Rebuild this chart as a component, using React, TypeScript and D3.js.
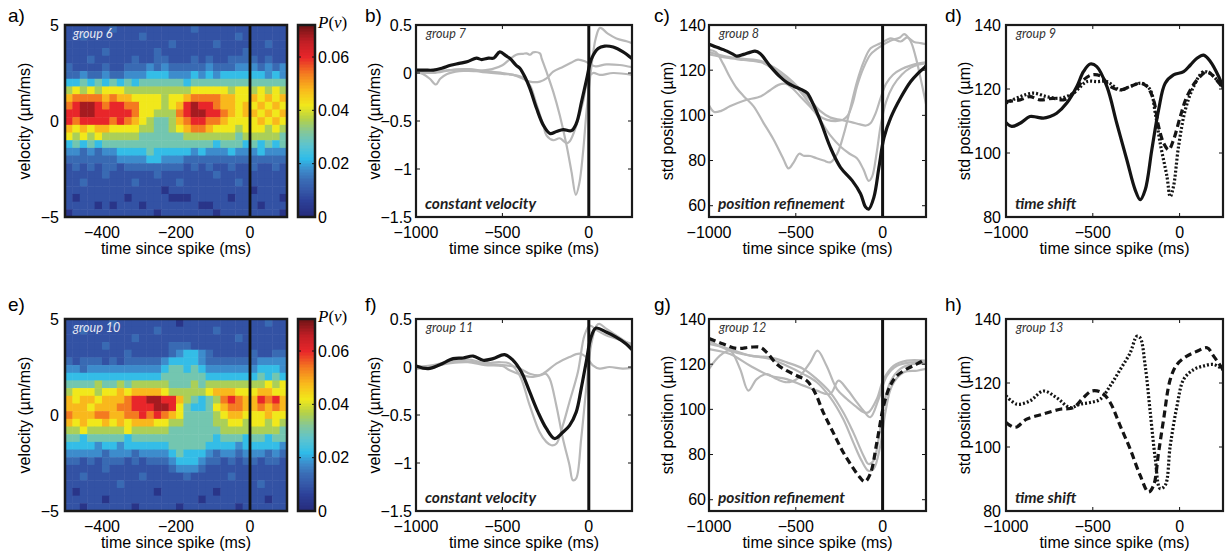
import React from "react";
import * as d3 from "d3";

// ---------------- heatmap data (levels) ----------------
// each char = density level index into HEAT_LEVELS; rows from v=+5 (top) to v=-5 (bottom),
// columns from t=-500 to t=+100 ms
const HEAT_LEVELS = [0.003, 0.009, 0.0135, 0.018, 0.0225, 0.03, 0.036, 0.042, 0.048, 0.054, 0.06, 0.068];
const HEAT_TIME_DOMAIN: [number, number] = [-500, 100];
const HEAT_VEL_DOMAIN: [number, number] = [-5, 5];
const HEAT_TIME_TICKS = [-400, -200, 0];
const HEAT_VEL_TICKS = [-5, 0, 5];
const CBAR_TICKS = [0, 0.02, 0.04, 0.06];
const CBAR_MAX = 0.072;

const heatGroup6 = [
  "11111 12111 11111 11211 11111 11111",
  "11211 11111 21111 11111 11121 11111",
  "11111 11111 11112 11111 21111 11211",
  "11111 21111 11211 11111 11112 11111",
  "11121 11112 11221 11212 11222 21211",
  "21111 21122 23232 22223 22233 32323",
  "22322 32233 34443 33434 34444 44343",
  "44545 45454 55555 54555 55555 55555",
  "67676 77766 66666 66777 77677 67676",
  "89999 89887 77767 78999 98877 87878",
  "9abba 9aa99 77767 8abaa 98878 78787",
  "aabba aaaa9 77666 9abba a9878 87878",
  "a9aaa a9a98 76556 89aa9 98777 78787",
  "87878 87777 66556 78998 77767 77676",
  "76767 66666 55555 56666 66656 66665",
  "45454 55555 55555 55555 45554 54545",
  "33232 33444 45444 44343 33433 34333",
  "22222 22333 34433 32222 22222 22222",
  "12121 22122 22222 21212 11211 21121",
  "11111 21111 11211 11111 21111 11111",
  "11211 11112 11111 21111 11121 11111",
  "11111 11111 11101 11111 11111 01111",
  "10111 11101 11110 00111 11011 11110",
  "11110 10111 01111 11100 11111 10111",
  "01111 11111 11011 11111 01111 11110",
];

const heatGroup10 = [
  "11111 12111 11111 01111 11111 11211",
  "11211 11111 11211 11111 21111 11111",
  "11111 11112 11111 11111 11121 11111",
  "11111 21111 11112 22111 11111 11111",
  "11111 11121 11112 34432 11111 21122",
  "21222 12122 22234 44432 22222 23333",
  "33233 33333 33345 54543 33333 34443",
  "44444 44444 44455 55554 44444 45454",
  "55556 55656 66665 55656 66666 66767",
  "67776 77878 88876 66667 88877 78877",
  "87887 8889a abbaa 86545 69a98 8a9a8",
  "88878 8899a aabba 75445 78998 89898",
  "98889 98899 a9a98 75555 67887 77877",
  "87877 87878 88776 65555 66776 77676",
  "66766 66676 66665 55555 56666 66665",
  "55455 55545 55555 55555 45554 55455",
  "44443 44344 44445 55554 44434 44443",
  "33333 23332 33334 54443 23323 33232",
  "22121 22212 12223 44432 21212 21221",
  "11111 21111 11112 33321 11111 11111",
  "11211 11111 21111 12111 11211 11111",
  "11111 11211 11111 11111 11111 12111",
  "10111 11111 11011 11111 01111 11111",
  "11111 01111 11111 11101 11111 11011",
  "11011 11110 11111 01111 11101 11111",
];

// ---------------- line data: [time ms, value] ----------------
const LINE_TIME_DOMAIN: [number, number] = [-1000, 250];
const LINE_TIME_TICKS = [-1000, -500, 0];
const VEL_TICKS = [0.5, 0, -0.5, -1, -1.5];
const STD_TICKS_C = [140, 120, 100, 80, 60];
const STD_TICKS_D = [140, 120, 100, 80];

type Pt = [number, number];

// panel b (group 7)
const bBlack: Pt[] = [[-1000,0.03],[-950,0.03],[-900,0.03],[-850,0.05],[-800,0.08],[-750,0.1],[-700,0.12],[-650,0.155],[-620,0.14],[-580,0.155],[-550,0.155],[-515,0.22],[-480,0.18],[-457,0.153],[-420,0.08],[-399,0.05],[-370,-0.04],[-341,-0.16],[-302,-0.37],[-264,-0.54],[-225,-0.63],[-187,-0.61],[-148,-0.59],[-100,-0.6],[-71,-0.52],[-42,-0.3],[-13,-0.07],[16,0.15],[54,0.256],[92,0.28],[141,0.27],[198,0.22],[250,0.15]];
const bGrayA: Pt[] = [[-1000,0.01],[-960,-0.01],[-920,-0.06],[-885,-0.12],[-860,-0.06],[-820,-0.01],[-750,0.02],[-650,0.02],[-560,0.04],[-500,0.08],[-460,0.14],[-420,0.19],[-380,0.2],[-360,0.205],[-340,0.19],[-322,0.215],[-283,0.205],[-273,0.153],[-245,0.014],[-206,-0.194],[-168,-0.44],[-129,-0.75],[-100,-1.03],[-75,-1.27],[-55,-1.15],[-33,-0.82],[-13,-0.4],[16,0.08],[40,0.36],[65,0.47],[110,0.41],[160,0.36],[218,0.33],[250,0.31]];
const bGrayB: Pt[] = [[-1000,0.0],[-900,0.01],[-800,0.03],[-700,0.04],[-600,0.02],[-500,0.0],[-437,-0.02],[-380,-0.06],[-341,-0.09],[-283,-0.09],[-245,-0.056],[-206,0.014],[-148,0.066],[-100,0.11],[-63,0.14],[-20,0.12],[10,0.09],[40,0.07],[102,0.09],[179,0.083],[250,0.06]];
const bGrayC: Pt[] = [[-1000,0.02],[-900,0.0],[-800,0.03],[-700,0.04],[-630,0.014],[-500,-0.01],[-437,-0.02],[-380,-0.05],[-341,-0.125],[-302,-0.33],[-264,-0.54],[-245,-0.65],[-206,-0.7],[-168,-0.68],[-129,-0.73],[-110,-0.71],[-71,-0.54],[-33,-0.3],[-4,-0.055],[25,0.0],[64,-0.02],[141,0.0],[250,-0.02]];

// panel c (group 8)
const cBlack: Pt[] = [[-1000,131.5],[-950,130],[-917,129.1],[-860,127],[-840,126.2],[-800,127],[-760,128],[-735,128.4],[-706,127.4],[-648,121.8],[-590,117],[-550,114.5],[-512,112.9],[-470,111.5],[-435,110],[-400,105],[-358,97.5],[-301,85.8],[-243,77],[-175,71.1],[-127,65.3],[-98,59.4],[-80,58.5],[-50,63.8],[-21,77],[8,90.2],[47,99],[104,107.8],[162,115],[200,118.3],[239,121],[250,122]];
const cGrayA: Pt[] = [[-1000,129],[-960,128],[-920,123],[-880,117],[-840,112],[-800,108.5],[-744,104.1],[-687,96.8],[-629,89.4],[-571,80.6],[-542,76.5],[-513,79.1],[-480,83],[-455,82.1],[-417,82],[-380,81],[-339,80],[-301,79.2],[-262,82.9],[-224,91.6],[-185,103.4],[-147,115],[-108,123.9],[-69,129.7],[-12,131.9],[47,134.1],[104,132.7],[142,134.5],[181,132.5],[220,132],[250,131.5]];
const cGrayB: Pt[] = [[-1000,104.5],[-970,101.5],[-930,102],[-880,104],[-800,106.5],[-700,108.5],[-650,111],[-600,113.5],[-560,114],[-520,112],[-470,108],[-420,104],[-370,100],[-320,98],[-262,97.5],[-230,98],[-200,100],[-170,106],[-147,113],[-110,121],[-69,127],[-12,130.5],[45,133],[100,134.5],[125,136],[160,133],[190,126],[220,116],[250,105]];
const cGrayC: Pt[] = [[-1000,128],[-900,126],[-800,125],[-700,124],[-620,121],[-550,117],[-480,112],[-420,107],[-360,102],[-300,99],[-240,98],[-180,97],[-130,96],[-95,95.5],[-70,96.5],[-40,101],[-10,108],[20,114],[60,118],[110,120.5],[160,122],[210,123],[250,123.5]];
const cGrayD: Pt[] = [[-1000,127],[-900,125.5],[-800,124.5],[-700,123.5],[-620,120],[-550,116],[-480,111],[-420,105],[-360,98],[-300,91],[-240,86],[-190,83],[-148,81],[-110,76],[-80,71],[-60,73],[-35,83],[-10,96],[20,106],[60,113],[110,118],[160,121],[210,122.5],[250,123]];

// panel d (group 9)
const dSolid: Pt[] = [[-1000,109.5],[-967,108.3],[-919,109.3],[-862,111.4],[-823,111.2],[-785,110.9],[-746,111.4],[-708,112.4],[-650,115.6],[-592,120.8],[-554,125.4],[-515,127.8],[-477,127],[-419,120.8],[-362,109.3],[-304,97.9],[-256,88.5],[-227,85.4],[-198,88.5],[-160,101],[-121,113.5],[-83,121.8],[-35,124.4],[23,125.4],[62,127.5],[100,129.6],[138,130.6],[177,128.6],[225,123.9],[250,120.5]];
const dDashed: Pt[] = [[-1000,116.1],[-919,116.6],[-862,117.6],[-804,116.6],[-727,117.1],[-669,116.6],[-612,118.7],[-554,122.8],[-506,124.4],[-458,124.1],[-400,120.8],[-342,119.7],[-285,120.8],[-227,121.8],[-188,120.8],[-150,116.6],[-121,108.3],[-92,103.1],[-63,101],[-35,104.1],[4,111.4],[42,117.6],[100,122.8],[158,125.4],[196,123.9],[250,120.2]];
const dDotted: Pt[] = [[-1000,115.6],[-919,117.6],[-842,118.7],[-765,117.6],[-689,117.1],[-612,118.7],[-535,122.3],[-477,122.3],[-419,122.3],[-342,119.7],[-285,120.8],[-217,121.8],[-169,119.7],[-140,112.4],[-112,103.1],[-73,92.7],[-54,86.4],[-35,89.6],[-6,102.1],[33,113.5],[81,120.8],[138,125.4],[187,124.4],[250,120.2]];

// panel f (group 11)
const fBlack: Pt[] = [[-1000,0.01],[-929,-0.017],[-862,0.024],[-785,0.087],[-727,0.094],[-669,0.114],[-612,0.07],[-554,0.087],[-487,0.128],[-438,0.07],[-390,-0.052],[-342,-0.26],[-294,-0.47],[-246,-0.64],[-198,-0.745],[-150,-0.68],[-112,-0.61],[-73,-0.47],[-44,-0.225],[-15,0.052],[13,0.31],[42,0.405],[100,0.364],[158,0.312],[215,0.243],[250,0.18]];
const fGrayA: Pt[] = [[-1000,0.0],[-900,0.02],[-800,0.06],[-700,0.08],[-600,0.04],[-520,0.05],[-458,0.035],[-400,-0.087],[-342,-0.4],[-285,-0.676],[-246,-0.78],[-217,-0.815],[-188,-0.8],[-150,-0.607],[-112,-0.364],[-63,-0.052],[-25,0.33],[5,0.43],[50,0.38],[100,0.33],[150,0.3],[200,0.27],[250,0.24]];
const fGrayB: Pt[] = [[-1000,-0.02],[-900,0.0],[-800,0.05],[-700,0.06],[-600,0.03],[-500,0.02],[-419,0.0],[-342,-0.07],[-285,-0.087],[-250,-0.07],[-227,-0.12],[-188,-0.4],[-150,-0.745],[-112,-1.02],[-92,-1.18],[-73,-1.16],[-44,-0.745],[-15,-0.225],[13,0.225],[45,0.43],[60,0.45],[100,0.4],[150,0.34],[200,0.28],[250,0.22]];
const fGrayC: Pt[] = [[-1000,0.0],[-900,0.01],[-800,0.04],[-700,0.05],[-600,0.02],[-500,0.01],[-458,-0.035],[-381,-0.087],[-323,-0.104],[-265,-0.07],[-188,0.035],[-112,0.104],[-54,0.139],[-15,0.104],[23,0.017],[62,-0.017],[119,0.0],[196,-0.017],[250,-0.01]];

// panel g (group 12)
const gDashed: Pt[] = [[-1000,131.4],[-917,128.9],[-840,127],[-763,127.5],[-706,127.5],[-667,125.2],[-610,120.1],[-552,117.1],[-494,114.9],[-437,112.7],[-390,107.5],[-342,98.7],[-285,89.8],[-227,81],[-179,75.1],[-131,69.9],[-102,68],[-71,71.4],[-33,85.4],[6,101.6],[44,110.5],[83,114.9],[140,117.9],[198,120.1],[250,122.3]];
const gGrayA: Pt[] = [[-1000,117.9],[-937,123.8],[-879,126],[-821,117.9],[-773,108.3],[-725,113.4],[-667,115.6],[-610,113.4],[-552,112],[-494,113.4],[-417,120.8],[-375,126],[-323,119.3],[-263,109],[-206,104.6],[-148,100.9],[-110,98.7],[-81,98.7],[-33,104.6],[6,113.4],[63,119.3],[140,121.6],[250,121.6]];
const gGrayB: Pt[] = [[-1000,126.7],[-879,124.5],[-763,119.3],[-648,114.9],[-552,113.4],[-456,110.5],[-379,108.3],[-302,106.8],[-254,112.7],[-206,109],[-148,103.1],[-110,99.4],[-71,96.5],[-23,104.6],[25,114.9],[83,119.3],[160,120.8],[250,120.8]];
const gGrayC: Pt[] = [[-1000,129],[-879,126.7],[-763,123.8],[-648,123],[-552,120.8],[-456,117.9],[-379,113.4],[-302,107.5],[-227,98.7],[-169,89.8],[-110,79.5],[-81,75.8],[-52,77.3],[-23,86.9],[6,101.6],[44,112],[102,117.9],[179,120.1],[250,120.1]];
const gGrayD: Pt[] = [[-1000,130.4],[-879,126],[-763,123.8],[-648,122.3],[-552,119.3],[-456,115.6],[-379,112],[-302,105.3],[-227,95.7],[-169,85.4],[-121,77.3],[-81,72.8],[-52,73.6],[-13,84],[16,98.7],[54,110.5],[122,116.4],[198,117.1],[250,117.9]];

// panel h (group 13)
const hDashed: Pt[] = [[-1000,107.7],[-948,106.1],[-881,108.7],[-785,110.3],[-688,111.8],[-612,112.3],[-554,115.4],[-506,117.5],[-448,117],[-400,113.9],[-342,106.6],[-285,99.4],[-227,91.1],[-179,85.9],[-150,88],[-121,98.3],[-92,108.7],[-54,121.1],[-15,125.8],[42,128.4],[100,129.9],[158,131],[196,128.4],[250,124.2]];
const hDotted: Pt[] = [[-1000,116],[-938,113.4],[-862,114.4],[-785,117.5],[-708,115.4],[-631,112.3],[-573,113.4],[-515,113.9],[-458,114.9],[-400,119.1],[-342,124.2],[-285,129.4],[-246,134.6],[-227,134.1],[-198,125.3],[-169,110.8],[-140,96.3],[-112,87],[-83,88],[-54,100.4],[-15,112.8],[23,121.1],[81,124.2],[138,125.3],[196,125.8],[250,124.2]];

// ---------------- styling / layout ----------------
const CMAP_STOPS = [0, 0.006, 0.01, 0.014, 0.018, 0.022, 0.027, 0.032, 0.037, 0.042, 0.048, 0.054, 0.06, 0.066, 0.072];
const CMAP_COLORS = ["#262a7a", "#2c3f97", "#3558a8", "#3a6cb5", "#3d8ccc", "#2fbce9", "#5cc4d0", "#83c79a", "#b5d147", "#f1e81b", "#f9b81c", "#f47a20", "#e8262a", "#c01e25", "#6f1416"];
const cmap = d3.scaleLinear<string>().domain(CMAP_STOPS).range(CMAP_COLORS).interpolate(d3.interpolateRgb).clamp(true);

const FONT = "'Liberation Sans', Arial, Helvetica, sans-serif";
const ANNOT_FONT = "Lato, 'Open Sans', sans-serif";
const ROW_Y: [number, number][] = [[25, 217], [319, 511]];

const fmt = (v: number) => (v < 0 ? "\u2212" + String(Math.abs(v)) : String(v));

function levelIndex(ch: string) {
  if (ch === "a") return 10;
  if (ch === "b") return 11;
  return +ch;
}

type HeatProps = { rows: string[]; y0: number; y1: number; letter: string; group: string; letterY: number; id: string };

function HeatPanel({ rows, y0, y1, letter, group, letterY, id }: HeatProps) {
  const x0 = 65, x1 = 287;
  const grid = rows.map((r) => r.replace(/ /g, ""));
  const nr = grid.length, nc = grid[0].length;
  const xs = d3.scaleLinear().domain(HEAT_TIME_DOMAIN).range([x0, x1]);
  const ys = d3.scaleLinear().domain(HEAT_VEL_DOMAIN).range([y1, y0]);
  const dt = (HEAT_TIME_DOMAIN[1] - HEAT_TIME_DOMAIN[0]) / nc;
  const dv = (HEAT_VEL_DOMAIN[1] - HEAT_VEL_DOMAIN[0]) / nr;
  const cells: React.ReactNode[] = [];
  grid.forEach((row, r) => {
    for (let c = 0; c < nc; c++) {
      const t = HEAT_TIME_DOMAIN[0] + c * dt;
      const vTop = HEAT_VEL_DOMAIN[1] - r * dv;
      const xa = xs(t), xb = xs(t + dt);
      const ya = ys(vTop), yb = ys(vTop - dv);
      cells.push(
        <rect key={`${r}-${c}`} x={xa} y={ya} width={xb - xa + 0.5} height={yb - ya + 0.5}
          fill={cmap(HEAT_LEVELS[levelIndex(row[c])])} />
      );
    }
  });
  // colorbar
  const cx0 = 298, cx1 = 315;
  const cs = d3.scaleLinear().domain([0, CBAR_MAX]).range([y1, y0]);
  const nSteps = 64;
  const bar = d3.range(nSteps).map((i) => {
    const va = (i / nSteps) * CBAR_MAX, vb = ((i + 1) / nSteps) * CBAR_MAX;
    return <rect key={i} x={cx0} y={cs(vb)} width={cx1 - cx0} height={cs(va) - cs(vb) + 0.5} fill={cmap((va + vb) / 2)} />;
  });
  return (
    <g>
      <clipPath id={id}><rect x={x0} y={y0} width={x1 - x0} height={y1 - y0} /></clipPath>
      <g clipPath={`url(#${id})`}>{cells}</g>
      <line x1={xs(0)} x2={xs(0)} y1={y0} y2={y1} stroke="#111" strokeWidth={2.8} />
      <rect x={x0} y={y0} width={x1 - x0} height={y1 - y0} fill="none" stroke="#1a1a1a" strokeWidth={2.5} />
      <text x={x0 + 8} y={y0 + 13} fontFamily={ANNOT_FONT} fontStyle="italic" fontSize={12.5} fill="#e6e8f2">{group}</text>
      {HEAT_VEL_TICKS.map((v) => (
        <text key={v} x={x0 - 6} y={ys(v)} textAnchor="end" dominantBaseline="central" fontSize={16}>{fmt(v)}</text>
      ))}
      {HEAT_TIME_TICKS.map((t) => (
        <text key={t} x={xs(t)} y={y1 + 21} textAnchor="middle" fontSize={16}>{fmt(t)}</text>
      ))}
      <text x={(x0 + x1) / 2} y={y1 + 37} textAnchor="middle" fontSize={16}>time since spike (ms)</text>
      <text transform={`translate(${x0 - 41},${(y0 + y1) / 2}) rotate(-90)`} textAnchor="middle" dominantBaseline="central" fontSize={16}>velocity (µm/ms)</text>
      <text x={8} y={letterY} fontSize={19}>{letter}</text>
      {bar}
      {CBAR_TICKS.filter((v) => v > 0).map((v) => (
        <g key={v}>
          <line x1={cx0} x2={cx0 + 3} y1={cs(v)} y2={cs(v)} stroke="#111" strokeWidth={1} />
          <line x1={cx1 - 3} x2={cx1} y1={cs(v)} y2={cs(v)} stroke="#111" strokeWidth={1} />
        </g>
      ))}
      <rect x={cx0} y={y0} width={cx1 - cx0} height={y1 - y0} fill="none" stroke="#1a1a1a" strokeWidth={2.5} />
      {CBAR_TICKS.map((v) => (
        <text key={v} x={cx1 + 3} y={cs(v)} dominantBaseline="central" fontSize={16}>{v === 0 ? "0" : v.toFixed(2)}</text>
      ))}
      <text x={cx1 + 3} y={y0 + 3} fontFamily="'Liberation Serif', 'DejaVu Serif', serif" fontSize={17}>
        <tspan fontStyle="italic">P</tspan><tspan>(</tspan><tspan fontStyle="italic">v</tspan><tspan>)</tspan>
      </text>
    </g>
  );
}

type Kind = "black" | "gray" | "dashed" | "dotted";
type Series = { data: Pt[]; kind: Kind };

const STYLE: Record<Kind, { stroke: string; width: number; dash?: string }> = {
  black: { stroke: "#141414", width: 3.2 },
  gray: { stroke: "#b8b8b8", width: 2.2 },
  dashed: { stroke: "#141414", width: 3.2, dash: "7,4" },
  dotted: { stroke: "#141414", width: 3.2, dash: "2,2" },
};

type LineProps = {
  id: string; x0: number; x1: number; y0: number; y1: number;
  yDomain: [number, number]; yTicks: number[]; series: Series[];
  vline: boolean; letter: string; letterX: number; letterY: number;
  group: string; caption: string; yLabel: string; labelGap: number;
};

function LinePanel(p: LineProps) {
  const { x0, x1, y0, y1 } = p;
  const xs = d3.scaleLinear().domain(LINE_TIME_DOMAIN).range([x0, x1]);
  const ys = d3.scaleLinear().domain(p.yDomain).range([y1, y0]);
  const line = d3.line<Pt>().x((d) => xs(d[0])).y((d) => ys(d[1])).curve(d3.curveCatmullRom.alpha(0.5));
  const ordered = [...p.series.filter((s) => s.kind === "gray"), ...p.series.filter((s) => s.kind !== "gray")];
  const tl = 4;
  return (
    <g>
      <clipPath id={p.id}><rect x={x0} y={y0} width={x1 - x0} height={y1 - y0} /></clipPath>
      <g clipPath={`url(#${p.id})`}>
        {ordered.map((s, i) => {
          const st = STYLE[s.kind];
          return <path key={i} d={line(s.data) || ""} fill="none" stroke={st.stroke} strokeWidth={st.width}
            strokeDasharray={st.dash} strokeLinejoin="round" />;
        })}
      </g>
      {p.vline && <line x1={xs(0)} x2={xs(0)} y1={y0} y2={y1} stroke="#111" strokeWidth={3} />}
      {LINE_TIME_TICKS.map((t) => (
        <g key={t}>
          <line x1={xs(t)} x2={xs(t)} y1={y1} y2={y1 - tl} stroke="#111" />
          <line x1={xs(t)} x2={xs(t)} y1={y0} y2={y0 + tl} stroke="#111" />
          <text x={xs(t)} y={y1 + 21} textAnchor="middle" fontSize={16}>{fmt(t)}</text>
        </g>
      ))}
      {p.yTicks.map((v) => (
        <g key={v}>
          <line x1={x0} x2={x0 + tl} y1={ys(v)} y2={ys(v)} stroke="#111" />
          <line x1={x1} x2={x1 - tl} y1={ys(v)} y2={ys(v)} stroke="#111" />
          <text x={x0 - p.labelGap} y={ys(v)} textAnchor="end" dominantBaseline="central" fontSize={16}>{fmt(v)}</text>
        </g>
      ))}
      <rect x={x0} y={y0} width={x1 - x0} height={y1 - y0} fill="none" stroke="#1a1a1a" strokeWidth={2.2} />
      <text x={x0 + 10} y={y0 + 13} fontFamily={ANNOT_FONT} fontStyle="italic" fontSize={12.5} fill="#333">{p.group}</text>
      <text x={x0 + 9} y={y1 - 8} fontFamily={ANNOT_FONT} fontStyle="italic" fontWeight={700} fontSize={15.5} fill="#1e1e1e">{p.caption}</text>
      <text x={(x0 + x1) / 2} y={y1 + 37} textAnchor="middle" fontSize={16}>time since spike (ms)</text>
      <text transform={`translate(${x0 - 42},${(y0 + y1) / 2}) rotate(-90)`} textAnchor="middle" dominantBaseline="central" fontSize={16}>{p.yLabel}</text>
      <text x={p.letterX} y={p.letterY} fontSize={19}>{p.letter}</text>
    </g>
  );
}

export default function App() {
  const VEL_DOMAIN: [number, number] = [-1.5, 0.5];
  const STD_DOMAIN_C: [number, number] = [55, 140];
  const STD_DOMAIN_D: [number, number] = [80, 140];
  const rows = ROW_Y;
  const letterY = [22, 311];
  return (
    <div style={{ position: "absolute", left: 0, top: 0, width: 1225, height: 556, background: "#fff" }}>
      <svg width={1225} height={556} fontFamily={FONT} style={{ display: "block" }}>
        <rect width={1225} height={556} fill="#fff" />
        <HeatPanel id="clipA" rows={heatGroup6} y0={rows[0][0]} y1={rows[0][1]} letter="a)" group="group 6" letterY={letterY[0]} />
        <HeatPanel id="clipE" rows={heatGroup10} y0={rows[1][0]} y1={rows[1][1]} letter="e)" group="group 10" letterY={letterY[1]} />

        <LinePanel id="clipB" x0={416} x1={632} y0={rows[0][0]} y1={rows[0][1]} yDomain={VEL_DOMAIN} yTicks={VEL_TICKS}
          series={[{ data: bGrayA, kind: "gray" }, { data: bGrayB, kind: "gray" }, { data: bGrayC, kind: "gray" }, { data: bBlack, kind: "black" }]}
          vline letter="b)" letterX={365} letterY={letterY[0]} group="group 7" caption="constant velocity" yLabel="velocity (µm/ms)" labelGap={4} />
        <LinePanel id="clipC" x0={709} x1={926} y0={rows[0][0]} y1={rows[0][1]} yDomain={STD_DOMAIN_C} yTicks={STD_TICKS_C}
          series={[{ data: cGrayA, kind: "gray" }, { data: cGrayB, kind: "gray" }, { data: cGrayC, kind: "gray" }, { data: cGrayD, kind: "gray" }, { data: cBlack, kind: "black" }]}
          vline letter="c)" letterX={654} letterY={letterY[0]} group="group 8" caption="position refinement" yLabel="std position (µm)" labelGap={3} />
        <LinePanel id="clipD" x0={1006} x1={1223} y0={rows[0][0]} y1={rows[0][1]} yDomain={STD_DOMAIN_D} yTicks={STD_TICKS_D}
          series={[{ data: dSolid, kind: "black" }, { data: dDashed, kind: "dashed" }, { data: dDotted, kind: "dotted" }]}
          vline={false} letter="d)" letterX={945} letterY={letterY[0]} group="group 9" caption="time shift" yLabel="std position (µm)" labelGap={5} />

        <LinePanel id="clipF" x0={416} x1={632} y0={rows[1][0]} y1={rows[1][1]} yDomain={VEL_DOMAIN} yTicks={VEL_TICKS}
          series={[{ data: fGrayA, kind: "gray" }, { data: fGrayB, kind: "gray" }, { data: fGrayC, kind: "gray" }, { data: fBlack, kind: "black" }]}
          vline letter="f)" letterX={365} letterY={letterY[1]} group="group 11" caption="constant velocity" yLabel="velocity (µm/ms)" labelGap={4} />
        <LinePanel id="clipG" x0={709} x1={926} y0={rows[1][0]} y1={rows[1][1]} yDomain={STD_DOMAIN_C} yTicks={STD_TICKS_C}
          series={[{ data: gGrayA, kind: "gray" }, { data: gGrayB, kind: "gray" }, { data: gGrayC, kind: "gray" }, { data: gGrayD, kind: "gray" }, { data: gDashed, kind: "dashed" }]}
          vline letter="g)" letterX={654} letterY={letterY[1]} group="group 12" caption="position refinement" yLabel="std position (µm)" labelGap={3} />
        <LinePanel id="clipH" x0={1006} x1={1223} y0={rows[1][0]} y1={rows[1][1]} yDomain={STD_DOMAIN_D} yTicks={STD_TICKS_D}
          series={[{ data: hDashed, kind: "dashed" }, { data: hDotted, kind: "dotted" }]}
          vline={false} letter="h)" letterX={945} letterY={letterY[1]} group="group 13" caption="time shift" yLabel="std position (µm)" labelGap={5} />
      </svg>
    </div>
  );
}
